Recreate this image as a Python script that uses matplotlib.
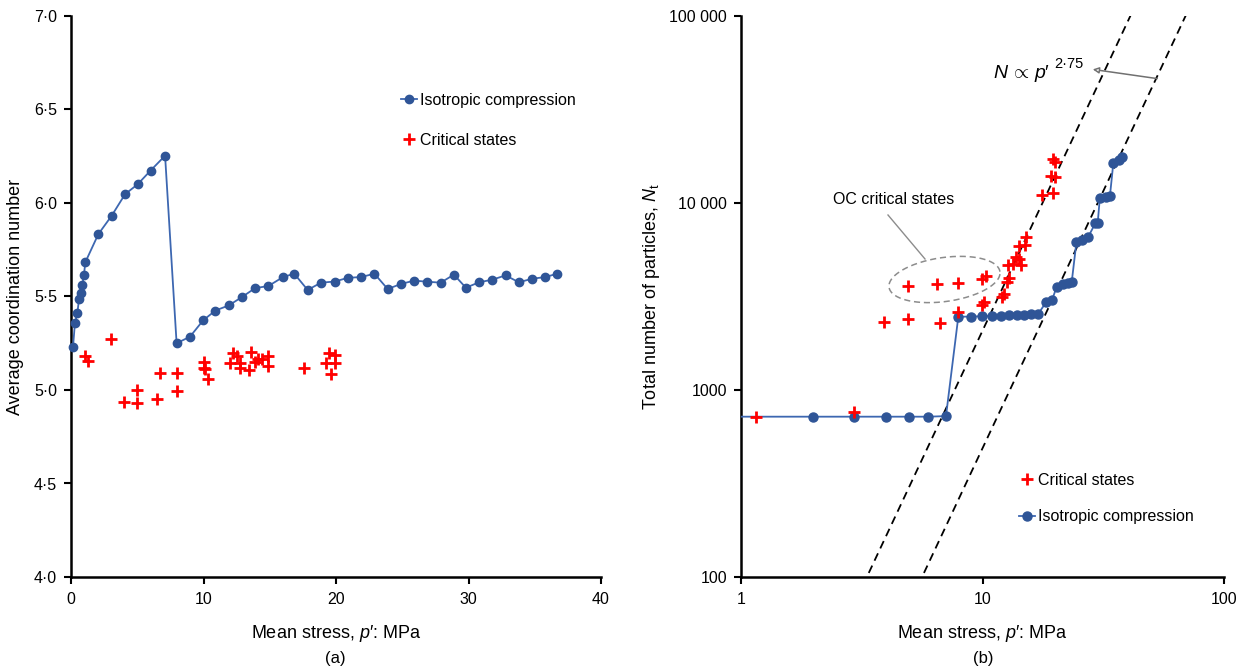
import numpy as np
import matplotlib
matplotlib.use("Agg")
import matplotlib.pyplot as plt
from matplotlib.lines import Line2D

plt.rcParams["font.family"] = ["Liberation Sans", "DejaVu Sans"]
plt.rcParams["mathtext.fontset"] = "custom"
plt.rcParams["mathtext.rm"] = "Liberation Sans"
plt.rcParams["mathtext.it"] = "Liberation Sans:italic"
plt.rcParams["mathtext.bf"] = "Liberation Sans:bold"

# ---- (a) average coordination number vs mean stress ----
iso_p_a = [0.15, 0.3, 0.48, 0.6, 0.73, 0.85, 0.98, 1.08, 2.06, 3.07, 4.08, 5.03,
           6.0, 7.1, 7.97, 8.98, 9.98, 10.9, 11.9, 12.9, 13.9, 14.9, 16.0, 16.85,
           17.86, 18.87, 19.9, 20.9, 21.9, 22.9, 23.9, 24.9, 25.9, 26.9, 27.9,
           28.9, 29.8, 30.8, 31.8, 32.8, 33.8, 34.8, 35.8, 36.7]
iso_cn_a = [5.23, 5.36, 5.41, 5.485, 5.517, 5.56, 5.617, 5.683, 5.833, 5.932,
            6.047, 6.10, 6.173, 6.253, 5.25, 5.285, 5.373, 5.425, 5.452, 5.497,
            5.545, 5.556, 5.604, 5.622, 5.535, 5.574, 5.58, 5.60, 5.604, 5.622,
            5.54, 5.567, 5.585, 5.579, 5.574, 5.617, 5.547, 5.576, 5.59, 5.613,
            5.576, 5.595, 5.604, 5.622]

cs_p_a = [1.06, 1.3, 3.0, 4.0, 5.0, 5.0, 6.5, 6.7, 8.0, 8.0, 10.0, 10.0, 10.15,
          10.36, 12.0, 12.25, 12.5, 12.75, 12.75, 13.4, 13.6, 13.9, 14.1, 14.4,
          14.9, 14.9, 17.6, 19.25, 19.5, 19.6, 19.9, 19.9]
cs_cn_a = [5.18, 5.157, 5.273, 4.938, 5.0, 4.932, 4.95, 5.089, 5.093, 4.996,
           5.151, 5.116, 5.11, 5.059, 5.143, 5.2, 5.18, 5.143, 5.12, 5.107,
           5.205, 5.151, 5.164, 5.166, 5.182, 5.128, 5.12, 5.146, 5.2, 5.084,
           5.187, 5.143]

a_xticks = [0, 10, 20, 30, 40]
a_yticks = [4.0, 4.5, 5.0, 5.5, 6.0, 6.5, 7.0]
a_ylabels = ["4·0", "4·5", "5·0", "5·5", "6·0", "6·5", "7·0"]

# ---- (b) total number of particles vs mean stress ----
iso_p_b = [0.5, 1.98, 2.95, 3.97, 4.95, 5.97, 7.06, 7.94, 8.97, 9.96, 10.9, 11.9,
           12.9, 13.9, 14.9, 15.9, 17.0, 18.4, 19.4, 20.3, 21.6, 22.6, 23.4,
           24.5, 25.8, 27.4, 29.3, 30.0, 30.6, 32.6, 33.7, 34.8, 36.6, 37.8]
iso_n_b = [720, 720, 720, 720, 720, 720, 725, 2465, 2470, 2480, 2490, 2500,
           2505, 2515, 2525, 2535, 2550, 2966, 3030, 3565, 3690, 3720, 3760,
           6210, 6330, 6590, 7780, 7850, 10590, 10800, 10900, 16300, 17000, 17700]

cs_p_b = [1.15, 2.95, 3.9, 4.93, 6.7, 7.94, 4.93, 6.45, 7.94, 9.94, 10.3, 9.94,
          10.1, 12.0, 12.3, 12.65, 12.9, 12.8, 13.4, 14.4, 13.8, 14.2, 14.2,
          15.0, 15.2, 17.7, 19.6, 19.3, 19.9, 19.6, 20.0]
cs_n_b = [720, 760, 2320, 2390, 2280, 2620, 3610, 3675, 3720, 3910, 4090, 2850,
          2970, 3150, 3260, 3800, 3950, 4640, 4720, 4650, 5120, 5000, 5880,
          5960, 6600, 11100, 11300, 13900, 13800, 17100, 16500]

# reference lines N ∝ p'^2.75 through N = 100 at these stresses
power = 2.75
ref_p100 = [3.32, 5.62]

b_ticks_x = [1, 10, 100]
b_ticks_y = [100, 1000, 10000, 100000]
b_ylabels = ["100", "1000", "10 000", "100 000"]

blue_mk = "#2F5597"
blue_ln = "#3D67B1"
red = "#FF0000"
tick_fs = 11.5
label_fs = 13
legend_fs = 11.5

fig = plt.figure(figsize=(12.5, 6.7), dpi=100)
ax1 = fig.add_axes([71 / 1250, 1 - 577 / 670, 530 / 1250, 561 / 670])
ax2 = fig.add_axes([741 / 1250, 1 - 577 / 670, 483 / 1250, 561 / 670])


def style(ax):
    for s in ("top", "right"):
        ax.spines[s].set_visible(False)
    for s in ("left", "bottom"):
        ax.spines[s].set_linewidth(1.8)
    ax.tick_params(direction="out", length=5, width=1.5, labelsize=tick_fs,
                   pad=5)
    ax.tick_params(axis="x", pad=6)
    ax.tick_params(which="minor", length=0)


# panel (a)
ax1.plot(iso_p_a, iso_cn_a, color=blue_ln, lw=1.3, marker="o", ms=6,
         mfc=blue_mk, mec=blue_mk, label="Isotropic compression", zorder=3,
         clip_on=False)
ax1.plot(cs_p_a, cs_cn_a, ls="none", marker="+", ms=8, mew=2, color=red,
         label="Critical states", zorder=4)
ax1.set_xlim(0, 40)
ax1.set_ylim(4.0, 7.0)
ax1.set_xticks(a_xticks)
ax1.set_yticks(a_yticks)
ax1.set_yticklabels(a_ylabels)
style(ax1)
ax1.set_xlabel("Mean stress, $p$′: MPa", fontsize=label_fs, labelpad=11)
ax1.set_ylabel("Average coordination number", fontsize=label_fs, labelpad=7)
ax1.legend(loc="upper left", bbox_to_anchor=(0.61, 0.875), frameon=False,
           fontsize=legend_fs, handlelength=1.0, handletextpad=0.2,
           labelspacing=1.6, borderaxespad=0)

# panel (b)
ax2.set_xscale("log")
ax2.set_yscale("log")
ax2.set_xlim(1, 100)
ax2.set_ylim(100, 100000)
pp = np.logspace(0, 2, 200)
for p0 in ref_p100:
    ax2.plot(pp, 100 * (pp / p0) ** power, ls=(0, (4.5, 3)), color="black",
             lw=1.3, zorder=2)
ax2.plot(iso_p_b, iso_n_b, color=blue_ln, lw=1.3, marker="o", ms=6.5,
         mfc=blue_mk, mec=blue_mk, label="Isotropic compression", zorder=3)
ax2.plot(cs_p_b, cs_n_b, ls="none", marker="+", ms=8, mew=2, color=red,
         label="Critical states", zorder=4)
ax2.set_xticks(b_ticks_x)
ax2.set_xticklabels([str(v) for v in b_ticks_x])
ax2.set_yticks(b_ticks_y)
ax2.set_yticklabels(b_ylabels)
style(ax2)
ax2.set_xlabel("Mean stress, $p$′: MPa", fontsize=label_fs, labelpad=11)
ax2.set_ylabel(r"Total number of particles, $N_{\mathrm{t}}$", fontsize=label_fs,
               labelpad=5)
h, l = ax2.get_legend_handles_labels()
ax2.legend([h[1], h[0]], [l[1], l[0]], loc="upper left",
           bbox_to_anchor=(0.562, 0.197), frameon=False, fontsize=legend_fs,
           handlelength=1.0, handletextpad=0.2, labelspacing=1.35,
           borderaxespad=0)

# dashed ellipse around the over-consolidated points (drawn in axes space)
x0, y0, w0, h0 = 741, 16, 483, 561
cx, cy, ea, eb, ang = 944.5, 279.5, 56, 22, np.deg2rad(8)
t = np.linspace(0, 2 * np.pi, 300)
ex = cx + ea * np.cos(t) * np.cos(ang) - eb * np.sin(t) * np.sin(ang)
ey_up = ea * np.cos(t) * np.sin(ang) + eb * np.sin(t) * np.cos(ang)
ey = cy - ey_up
ax2.plot((ex - x0) / w0, (y0 + h0 - ey) / h0, transform=ax2.transAxes,
         color="#8C8C8C", ls=(0, (4, 2.5)), lw=1.1, zorder=1)


def fpx(x, y):
    return (x / 1250, 1 - y / 670)


fig.text(*fpx(894, 199), "OC critical states", fontsize=legend_fs, ha="center",
         va="center")
fig.add_artist(Line2D([fpx(888, 215)[0], fpx(925, 259)[0]],
                      [fpx(888, 215)[1], fpx(925, 259)[1]],
                      color="#8C8C8C", lw=1.0))

fig.text(*fpx(993, 74), r"$N\,\propto\,p$′", fontsize=14, ha="left",
         va="center")
fig.text(*fpx(1054, 64), "2·75", fontsize=10.5, ha="left", va="center")
ax2.annotate("", xy=fpx(1090, 69), xycoords="figure fraction",
             xytext=fpx(1160, 79), textcoords="figure fraction",
             arrowprops=dict(arrowstyle="-|>", color="#707070", lw=1.1,
                             mutation_scale=9, fc="white"))

fig.text(*fpx(335, 658), "(a)", fontsize=12, ha="center", va="center")
fig.text(*fpx(983, 658), "(b)", fontsize=12, ha="center", va="center")

fig.savefig("out.png", dpi=100)
